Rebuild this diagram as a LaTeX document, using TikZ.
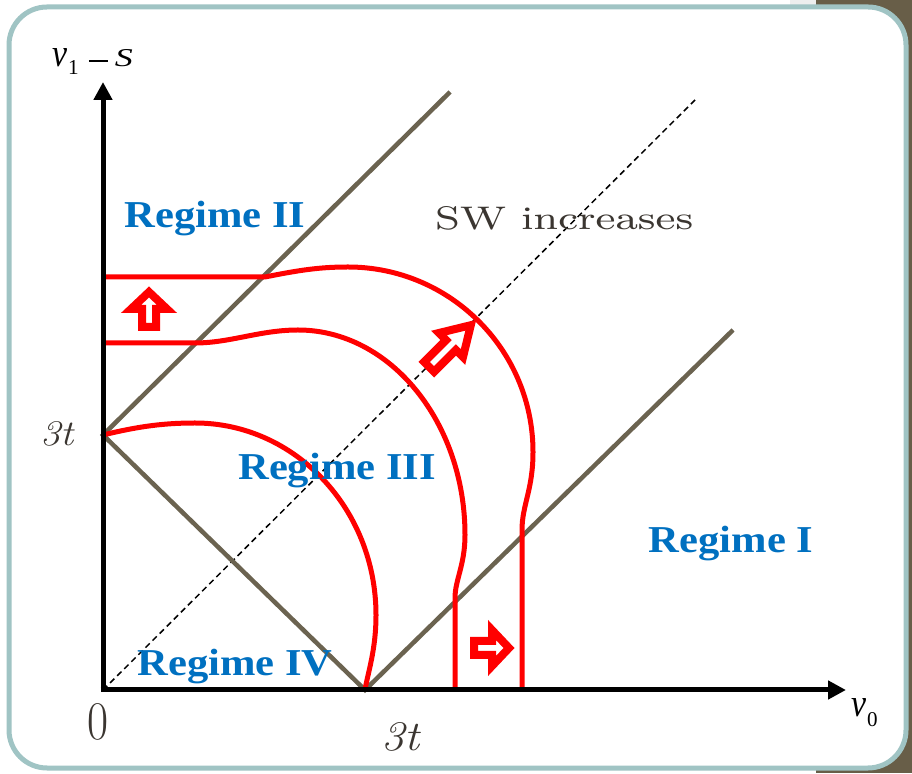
\documentclass[tikz,border=0pt]{standalone}
\usepackage{fontspec}
\newfontfamily\timesfont{Liberation Serif}
\newfontfamily\lmeight{lmroman8-regular.otf}
\usetikzlibrary{arrows.meta}
\definecolor{regblue}{RGB}{0,112,192}
\definecolor{linebrown}{RGB}{107,99,80}
\definecolor{frameteal}{RGB}{160,196,196}
\definecolor{cornerolive}{RGB}{104,94,72}
\definecolor{textgrey}{RGB}{59,54,49}
\definecolor{stripgrey}{RGB}{238,238,238}
\tikzset{
  x=1pt, y=1pt,
  regime/.style={text=regblue, anchor=base, inner sep=0pt, font=\timesfont\bfseries\fontsize{38}{40}\selectfont},
  axis/.style={line width=5pt, -{Triangle[length=18pt,width=18pt]}},
  brownline/.style={linebrown, line width=4.5pt},
  redcurve/.style={red, line width=5pt},
  axlabel/.style={inner sep=0pt, anchor=base west, font=\timesfont\fontsize{27}{29}\selectfont},
  harrowshort/.pic={\draw[red, line width=8pt, fill=white, line join=miter]
     (-18,-7) -- (0,-7) -- (0,-18) -- (17,0) -- (0,18) -- (0,7) -- (-18,7) -- cycle;},
  harrowlong/.pic={\draw[red, line width=8pt, fill=white, line join=miter]
     (-31,-7) -- (0,-7) -- (0,-17) -- (28,0) -- (0,17) -- (0,7) -- (-31,7) -- cycle;}
}
\begin{document}
\begin{tikzpicture}
\useasboundingbox (0,0) rectangle (912,773);
% background
\fill[white] (0,0) rectangle (912,773);
\fill[cornerolive] (816,0) rectangle (912,773);
\fill[stripgrey] (790,768) rectangle (816,773);
\draw[frameteal, line width=5pt, fill=white, rounded corners=38pt] (9,5) rectangle (906,766);

% named points
\coordinate (O) at (103,83);
\coordinate (ytip) at (103,691);
\coordinate (xtip) at (846,83);
\coordinate (A) at (103,338);
\coordinate (Aend) at (450,681);
\coordinate (B) at (365,83);
\coordinate (Bend) at (733,443);
\coordinate (Dend) at (695,673);

% dashed diagonal
\draw[black, line width=1.5pt, dash pattern=on 6pt off 4pt] (O) -- (Dend);

% brown lines
\draw[brownline] (Aend) -- (A) -- (B) -- (Bend);

% red curves
\draw[redcurve] (103,496) -- (265,496) .. controls (300,503) and (320,506) .. (348,506)
  .. controls (450,506) and (533,423) .. (533,321)
  .. controls (533,283) and (522,268) .. (522,243) -- (522,83);
\draw[redcurve] (103,430) -- (195,430) .. controls (230,430) and (260,443) .. (298,443)
  .. controls (390,443) and (465,351) .. (465,238)
  .. controls (465,208) and (455,193) .. (455,175) -- (455,83);
\draw[redcurve] (A) .. controls (140,347) and (165,350) .. (195,350)
  .. controls (295,350) and (376,264) .. (376,158)
  .. controls (376,123) and (368,101) .. (B);

% axes
\draw[axis] (O) -- (ytip);
\draw[axis] ([xshift=-2.5pt]O) -- (xtip);

% hollow arrows
\pic[rotate=90] at (149,464) {harrowshort};
\pic at (492,125) {harrowshort};
\pic[rotate=45] at (451,428) {harrowlong};

% labels
\node[regime] (r2) at (215,545) {\scalebox{1.12}[1]{Regime II}};
\node[regime] (r3) at (337,293) {\scalebox{1.12}[1]{Regime III}};
\node[regime] (r1) at (731,220) {\scalebox{1.12}[1]{Regime I}};
\node[regime] (r4) at (235,97) {\scalebox{1.12}[1]{Regime IV}};
\node[text=textgrey, anchor=base west, inner sep=0pt, font=\lmeight\fontsize{33}{35}\selectfont] (sw) at (435,543) {\resizebox{258pt}{23pt}{SW increases}};

\node[axlabel] (ylab) at (52,706) {\resizebox{15pt}{18pt}{\textit{ν}}\hspace{1pt}\raisebox{-8pt}{\resizebox{!}{14pt}{1}}\hspace{10pt}\rule[5pt]{19pt}{1.6pt}\hspace{7pt}\resizebox{18pt}{17pt}{\textit{S}}};
\node[axlabel] (xlab) at (851,56) {\resizebox{15pt}{18pt}{\textit{ν}}\hspace{1pt}\raisebox{-9pt}{\resizebox{!}{14pt}{0}}};
\node[text=textgrey, inner sep=0pt, anchor=base, font=\fontsize{46}{48}\selectfont] (zero) at (98,34) {\resizebox{21pt}{36pt}{0}};
\node[text=textgrey, inner sep=0pt, anchor=base west, font=\fontsize{38}{40}\selectfont] (t3b) at (381,23) {\resizebox{40pt}{28pt}{\textit{3t}}};
\node[text=textgrey, inner sep=0pt, anchor=base west, font=\fontsize{38}{40}\selectfont] (t3l) at (40,327) {\resizebox{35pt}{24pt}{\textit{3t}}};
\end{tikzpicture}
\end{document}
